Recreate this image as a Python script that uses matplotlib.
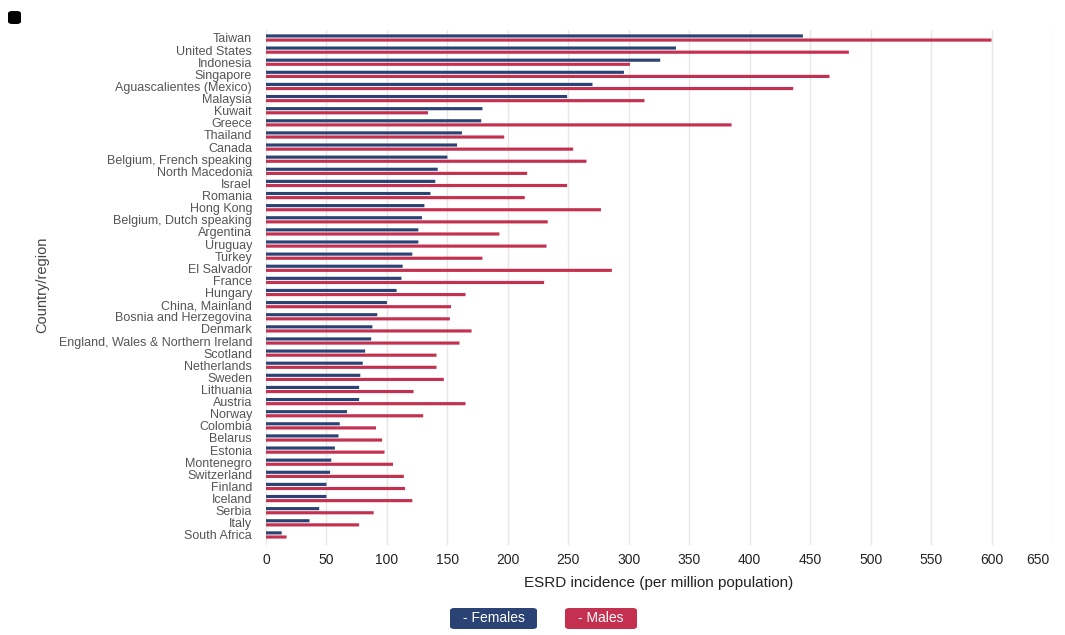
import numpy as np
import matplotlib
matplotlib.use("Agg")
import matplotlib.pyplot as plt
from matplotlib.patches import FancyBboxPatch
from matplotlib.transforms import ScaledTranslation

plt.rcParams['font.family'] = ['Liberation Sans', 'DejaVu Sans']

# ESRD incidence per million population, by sex
countries = [
    'Taiwan', 'United States', 'Indonesia', 'Singapore', 'Aguascalientes (Mexico)',
    'Malaysia', 'Kuwait', 'Greece', 'Thailand', 'Canada',
    'Belgium, French speaking', 'North Macedonia', 'Israel', 'Romania', 'Hong Kong',
    'Belgium, Dutch speaking', 'Argentina', 'Uruguay', 'Turkey', 'El Salvador',
    'France', 'Hungary', 'China, Mainland', 'Bosnia and Herzegovina', 'Denmark',
    'England, Wales & Northern Ireland', 'Scotland', 'Netherlands', 'Sweden', 'Lithuania',
    'Austria', 'Norway', 'Colombia', 'Belarus', 'Estonia',
    'Montenegro', 'Switzerland', 'Finland', 'Iceland', 'Serbia',
    'Italy', 'South Africa',
]
females = [
    444, 339, 326, 296, 270,
    249, 179, 178, 162, 158,
    150, 142, 140, 136, 131,
    129, 126, 126, 121, 113,
    112, 108, 100, 92, 88,
    87, 82, 80, 78, 77,
    77, 67, 61, 60, 57,
    54, 53, 50, 50, 44,
    36, 13,
]
males = [
    600, 482, 301, 466, 436,
    313, 134, 385, 197, 254,
    265, 216, 249, 214, 277,
    233, 193, 232, 179, 286,
    230, 165, 153, 152, 170,
    160, 141, 141, 147, 122,
    165, 130, 91, 96, 98,
    105, 114, 115, 121, 89,
    77, 17,
]

col_f = '#2b4275'
col_m = '#c4304f'

fig = plt.figure(figsize=(10.65, 6.35), dpi=100)
ax = fig.add_axes([266 / 1065, 1 - 545 / 635, (1052 - 266) / 1065, 515 / 635])

y = np.arange(len(countries))
bh = 0.26
off = 0.17
# snap=False keeps every bar the same (anti-aliased) thickness
ax.barh(y - off, females, height=bh, color=col_f, zorder=3, snap=False)
ax.barh(y + off, males, height=bh, color=col_m, zorder=3, snap=False)

ax.set_xlim(0, 650)
ax.set_ylim(41.83, -0.66)
ax.set_xticks(np.arange(0, 651, 50))
ax.set_yticks(y)
ax.set_yticklabels(countries, fontsize=9, color='#555555')
ax.tick_params(axis='x', labelsize=10, colors='#222222', length=0, pad=6)
ax.tick_params(axis='y', length=0, pad=10)
ax.grid(axis='x', color='#e6e6e6', linewidth=1, zorder=0)
for s in ax.spines.values():
    s.set_visible(False)

# last tick label sits a little inside the right edge
last = ax.get_xticklabels()[-1]
last.set_transform(last.get_transform() + ScaledTranslation(-0.14, 0, fig.dpi_scale_trans))

ax.set_xlabel('ESRD incidence (per million population)', fontsize=11, color='#222222', labelpad=6)
fig.text(42 / 1065, 1 - 285 / 635, 'Country/region', rotation=90, ha='center', va='center',
         fontsize=10.5, color='#444444')

# legend buttons
def button(x0, x1, color, label):
    y0, y1 = 1 - 629 / 635, 1 - 608 / 635
    fig.patches.append(FancyBboxPatch((x0 / 1065, y0), (x1 - x0) / 1065, y1 - y0,
                                      boxstyle='round,pad=0,rounding_size=0.004',
                                      transform=fig.transFigure, facecolor=color,
                                      edgecolor='none'))
    fig.text((x0 + x1) / 2 / 1065, (y0 + y1) / 2, label, ha='center', va='center',
             fontsize=10, color='white')

button(450, 537, col_f, '- Females')
button(565, 637, col_m, '- Males')

# menu marker, top-left
fig.patches.append(FancyBboxPatch((8 / 1065, 1 - 24 / 635), 13 / 1065, 13 / 635,
                                  boxstyle='round,pad=0,rounding_size=0.004',
                                  transform=fig.transFigure, facecolor='black',
                                  edgecolor='none'))

fig.savefig('out.png', dpi=100, facecolor='white')
